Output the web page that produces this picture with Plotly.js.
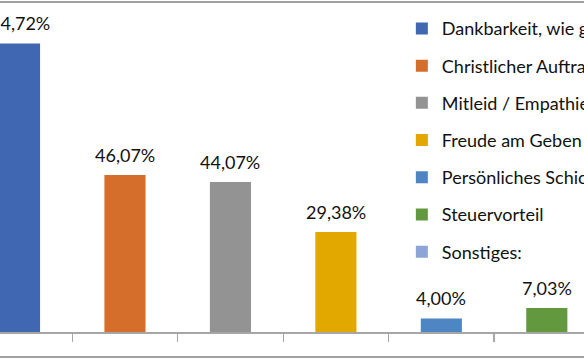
<!DOCTYPE html>
<html>
<head>
<meta charset="utf-8">
<script src="https://cdn.plot.ly/plotly-3.0.1.min.js"></script>
<style>
  html, body { margin: 0; padding: 0; background: #fff; overflow: hidden; width: 584px; height: 360px; }
  #chart { position: absolute; left: 0; top: 0; width: 760px; height: 360px; }
</style>
</head>
<body>
<div id="chart"></div>
<script>
// ---- data ----
var categories = ["Dankbarkeit, wie geht es mir gut", "Christlicher Auftrag", "Mitleid / Empathie", "Freude am Geben", "Persönliches Schicksal", "Steuervorteil", "Sonstiges:"];
var legendNames = ["Dankbarkeit, wie geht es mir gut", "Christlicher Auftrag", "Mitleid / Empathie", "Freude am Geben", "Persönliches Schicksal", "Steuervorteil", "Sonstiges:"];
var values = [84.72, 46.07, 44.07, 29.38, 4.00, 7.03, null];
var labels = ["84,72%", "46,07%", "44,07%", "29,38%", "4,00%", "7,03%", ""];
var colors = ["#4068B2", "#D56E2B", "#939393", "#E2A800", "#4E86C4", "#62993F", "#8DA5D6"];

var FONT = "Lato, 'Open Sans', sans-serif";

var traces = categories.map(function (c, i) {
  return {
    type: "bar",
    name: legendNames[i],
    legendgroup: "g" + i,
    x: [c],
    y: [values[i]],
    width: 0.39,
    marker: { color: colors[i], line: { width: 0 } },
    hoverinfo: "skip"
  };
});

var annotations = [];
categories.forEach(function (c, i) {
  if (values[i] === null) return;
  annotations.push({
    xref: "x", yref: "y", x: c, y: values[i],
    text: labels[i], showarrow: false,
    xanchor: "center", yanchor: "bottom", yshift: 7,
    font: { family: FONT, size: 18, color: "#111" }
  });
});

var layout = {
  width: 760,
  height: 360,
  margin: { l: 0, r: 55, t: 2, b: 28, pad: 0 },
  paper_bgcolor: "#fff",
  plot_bgcolor: "rgba(0,0,0,0)",
  barmode: "overlay",
  showlegend: true,
  font: { family: FONT, color: "#111" },
  xaxis: {
    type: "category",
    categoryorder: "array",
    categoryarray: categories,
    range: [-0.185, 6.5],
    showticklabels: false,
    ticks: "outside",
    tickson: "boundaries",
    ticklen: 8,
    tickwidth: 1.2,
    tickcolor: "#a6a6a6",
    showline: true,
    linecolor: "#a6a6a6",
    linewidth: 1.5,
    showgrid: false,
    zeroline: false,
    fixedrange: true
  },
  yaxis: {
    range: [0, 96.9],
    visible: false,
    showgrid: false,
    zeroline: false,
    fixedrange: true
  },
  legend: {
    x: 0.57,
    xanchor: "left",
    y: 0.975,
    yanchor: "top",
    traceorder: "grouped",
    tracegroupgap: 10.8,
    bgcolor: "rgba(0,0,0,0)",
    borderwidth: 0,
    font: { family: FONT, size: 18, color: "#111" }
  },
  annotations: annotations,
  shapes: [
    { type: "line", xref: "paper", yref: "paper", x0: 0, x1: 1, y0: 1, y1: 1,
      line: { color: "#a0a0a0", width: 2 } },
    { type: "line", xref: "paper", yref: "paper", x0: 0, x1: 1, y0: -0.0758, y1: -0.0758,
      line: { color: "#a0a0a0", width: 2 } }
  ]
};

Plotly.newPlot("chart", traces, layout, { displayModeBar: false, staticPlot: true });
</script>
</body>
</html>
